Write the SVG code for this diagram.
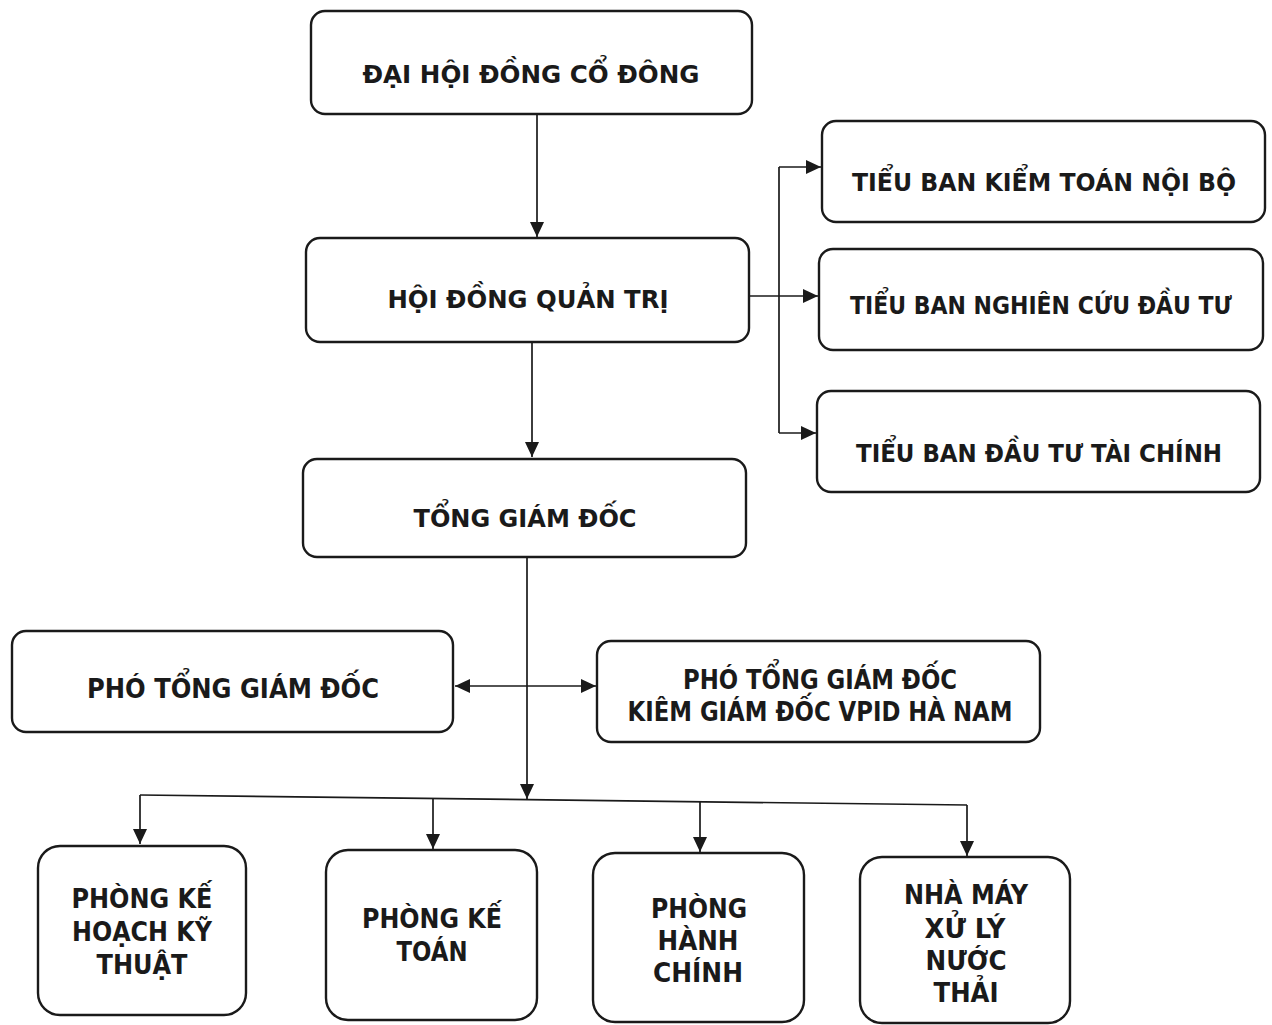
<svg xmlns="http://www.w3.org/2000/svg" width="1272" height="1025" viewBox="0 0 1272 1025">
<style>
.box{fill:#fff;stroke:#1a1a1a;stroke-width:2.4}
.t{font-family:"DejaVu Sans","Liberation Sans",sans-serif;font-weight:bold;font-size:25px;fill:#1a1a1a;text-anchor:middle}
.c{font-family:"DejaVu Sans Condensed","DejaVu Sans","Liberation Sans",sans-serif;font-stretch:condensed;font-weight:bold;font-size:26px;fill:#1a1a1a;text-anchor:middle}
.ln{fill:none;stroke:#1a1a1a;stroke-width:1.7}
</style>
<defs>
<marker id="ah" markerUnits="userSpaceOnUse" markerWidth="16" markerHeight="14" refX="15" refY="7" orient="auto-start-reverse">
<path d="M0,0 L15,7 L0,14 Z" fill="#1a1a1a"/>
</marker>
</defs>
<rect width="1272" height="1025" fill="#fff"/>
<g id="connectors">
<path class="ln" d="M537,115 V237" marker-end="url(#ah)"/>
<path class="ln" d="M532,342 V457" marker-end="url(#ah)"/>
<path class="ln" d="M749,296 H818" marker-end="url(#ah)"/>
<path class="ln" d="M779,167 V433"/>
<path class="ln" d="M779,167 H821" marker-end="url(#ah)"/>
<path class="ln" d="M779,433 H816" marker-end="url(#ah)"/>
<path class="ln" d="M527,557 V799" marker-end="url(#ah)"/>
<path class="ln" d="M455,686 H596" marker-start="url(#ah)" marker-end="url(#ah)"/>
<path class="ln" d="M140,795 L967,805"/>
<path class="ln" d="M140,795 V844" marker-end="url(#ah)"/>
<path class="ln" d="M433,799 V849" marker-end="url(#ah)"/>
<path class="ln" d="M700,802 V852" marker-end="url(#ah)"/>
<path class="ln" d="M967,805 V856" marker-end="url(#ah)"/>
</g>
<g id="n1"><rect class="box" x="311" y="11" width="441" height="103" rx="14"/><text class="t" x="531" y="83" textLength="337" lengthAdjust="spacingAndGlyphs">ĐẠI HỘI ĐỒNG CỔ ĐÔNG</text></g>
<g id="n2"><rect class="box" x="306" y="238" width="443" height="104" rx="14"/><text class="t" x="528" y="308" textLength="281" lengthAdjust="spacingAndGlyphs">HỘI ĐỒNG QUẢN TRỊ</text></g>
<g id="n3"><rect class="box" x="303" y="459" width="443" height="98" rx="14"/><text class="t" x="525" y="527" textLength="223" lengthAdjust="spacingAndGlyphs">TỔNG GIÁM ĐỐC</text></g>
<g id="n4"><rect class="box" x="822" y="121" width="443" height="101" rx="14"/><text class="t" x="1044" y="191" textLength="384" lengthAdjust="spacingAndGlyphs">TIỂU BAN KIỂM TOÁN NỘI BỘ</text></g>
<g id="n5"><rect class="box" x="819" y="249" width="444" height="101" rx="14"/><text class="t" x="1041" y="314" style="font-size:24px" textLength="382" lengthAdjust="spacingAndGlyphs">TIỂU BAN NGHIÊN CỨU ĐẦU TƯ</text></g>
<g id="n6"><rect class="box" x="817" y="391" width="443" height="101" rx="14"/><text class="t" x="1039" y="462" textLength="366" lengthAdjust="spacingAndGlyphs">TIỂU BAN ĐẦU TƯ TÀI CHÍNH</text></g>
<g id="n7"><rect class="box" x="12" y="631" width="441" height="101" rx="14"/><text class="c" x="233" y="698" textLength="292" lengthAdjust="spacingAndGlyphs">PHÓ TỔNG GIÁM ĐỐC</text></g>
<g id="n8"><rect class="box" x="597" y="641" width="443" height="101" rx="14"/><text class="c" x="820" y="689" textLength="274" lengthAdjust="spacingAndGlyphs">PHÓ TỔNG GIÁM ĐỐC</text><text class="c" x="820" y="721" textLength="385" lengthAdjust="spacingAndGlyphs">KIÊM GIÁM ĐỐC VPID HÀ NAM</text></g>
<g id="n9"><rect class="box" x="38" y="846" width="208" height="169" rx="22"/><text class="c" x="142" y="908" textLength="141" lengthAdjust="spacingAndGlyphs">PHÒNG KẾ</text><text class="c" x="142" y="941" textLength="140" lengthAdjust="spacingAndGlyphs">HOẠCH KỸ</text><text class="c" x="142" y="974" textLength="91" lengthAdjust="spacingAndGlyphs">THUẬT</text></g>
<g id="n10"><rect class="box" x="326" y="850" width="211" height="170" rx="22"/><text class="c" x="432" y="928" textLength="140" lengthAdjust="spacingAndGlyphs">PHÒNG KẾ</text><text class="c" x="432" y="961" textLength="71" lengthAdjust="spacingAndGlyphs">TOÁN</text></g>
<g id="n11"><rect class="box" x="593" y="853" width="211" height="169" rx="22"/><text class="c" x="699" y="918" textLength="96" lengthAdjust="spacingAndGlyphs">PHÒNG</text><text class="c" x="698" y="950" textLength="81" lengthAdjust="spacingAndGlyphs">HÀNH</text><text class="c" x="698" y="982" textLength="90" lengthAdjust="spacingAndGlyphs">CHÍNH</text></g>
<g id="n12"><rect class="box" x="860" y="857" width="210" height="166" rx="22"/><text class="c" x="966" y="904" textLength="124" lengthAdjust="spacingAndGlyphs">NHÀ MÁY</text><text class="c" x="965" y="938" textLength="81" lengthAdjust="spacingAndGlyphs">XỬ LÝ</text><text class="c" x="966" y="970" textLength="81" lengthAdjust="spacingAndGlyphs">NƯỚC</text><text class="c" x="966" y="1002" textLength="65" lengthAdjust="spacingAndGlyphs">THẢI</text></g>
</svg>
